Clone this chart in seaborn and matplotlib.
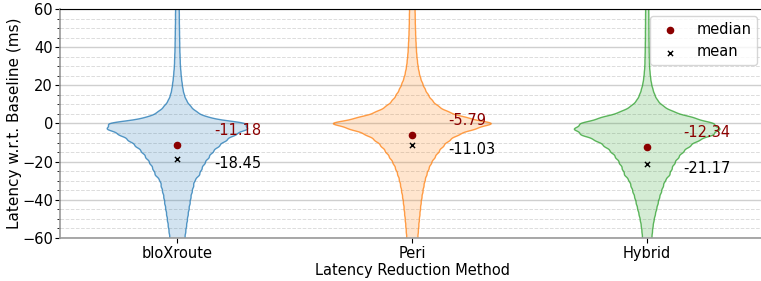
import numpy as np
import pandas as pd
import matplotlib
matplotlib.use("Agg")
import matplotlib.pyplot as plt
from matplotlib.colors import to_rgba
from matplotlib.ticker import MultipleLocator
import seaborn as sns

methods = ["bloXroute", "Peri", "Hybrid"]
colors = ["tab:blue", "tab:orange", "tab:green"]
medians = [-11.18, -5.79, -12.34]
means = [-18.45, -11.03, -21.17]

# latency levels (ms) and the relative frequency at each level
levels = np.arange(84, -85, -3)
freq_blox = [1.3, 1.4, 1.5, 1.5, 1.6, 1.6, 1.7, 1.7, 1.8, 1.9, 1.9, 2.0, 2.1, 2.2, 2.3,
             2.4, 2.6, 2.8, 3.0, 3.5, 4.0, 4.7, 5.5, 6.8, 9.0, 13, 19, 30, 70, 70,
             57, 48, 41, 35, 31, 27, 24, 22, 17, 16, 14.5, 13.3, 12.5, 11.5, 10.6,
             9.8, 9.0, 8.2, 7.5, 6.8, 6.2, 5.6, 5.0, 4.5, 4.0, 3.5, 3.0]
freq_peri = [2.0, 2.1, 2.2, 2.3, 2.4, 2.5, 2.6, 2.7, 2.8, 2.9, 3.0, 3.1, 3.3, 3.5, 3.8,
             4.1, 4.5, 5.1, 5.8, 6.8, 8.2, 10.3, 12.8, 16, 20, 26, 36, 54, 84, 62,
             46, 37, 31, 26.5, 22.5, 19, 16.5, 14.5, 12.8, 11.6, 10.6, 9.6, 8.8, 8.2, 7.6,
             7.0, 6.5, 6.0, 5.6, 5.2, 4.8, 4.5, 4.2, 3.9, 3.6, 3.3, 3.0]
freq_hybrid = [1.4, 1.4, 1.5, 1.5, 1.5, 1.6, 1.6, 1.7, 1.7, 1.7, 1.8, 1.8, 1.9, 1.9, 2.0,
               2.1, 2.2, 2.4, 2.5, 3.0, 3.6, 4.5, 6.0, 8.0, 11, 17, 28, 49, 71, 78,
               70, 54, 45, 38, 33, 29, 26, 24, 19, 17, 15, 13, 11.5, 10, 8.5,
               7.2, 6.2, 5.5, 5.0, 4.5, 4.1, 3.7, 3.4, 3.1, 2.8, 2.5, 2.2]

rows = []
for m, f in zip(methods, [freq_blox, freq_peri, freq_hybrid]):
    counts = np.round(np.array(f) * 10).astype(int)
    vals = np.repeat(levels, counts)
    rows.append(pd.DataFrame({"Method": m, "Latency": vals}))
df = pd.concat(rows, ignore_index=True)


def fixed_bw(kde):
    # same kernel width (in ms) for every violin
    return 1.5 / kde.dataset.std()


fig = plt.figure(figsize=(7.61, 2.81), dpi=100)
ax = fig.add_axes([0.0788, 0.153, 0.926, 0.815])
ax.set_axisbelow(True)

sns.violinplot(data=df, x="Method", y="Latency", hue="Method", order=methods,
               palette=colors, legend=False, inner=None, cut=2, gridsize=600,
               bw_method=fixed_bw, density_norm="area", common_norm=True,
               width=0.672, linewidth=1, ax=ax)

for coll, c in zip(ax.collections, colors):
    coll.set_facecolor(to_rgba(c, 0.2))
    coll.set_edgecolor(to_rgba(c, 0.75))
    coll.set_linewidth(1)

xs = np.arange(len(methods))
ax.scatter(xs, medians, color="darkred", s=20, zorder=4, label="median")
ax.scatter(xs, means, color="black", marker="x", s=14, linewidths=1, zorder=4, label="mean")
for i in range(len(methods)):
    ax.text(xs[i] + 0.155, medians[i] + 7.4, f"{medians[i]:.2f}", color="darkred",
            fontsize=10.5, va="center", ha="left")
    ax.text(xs[i] + 0.155, means[i] - 2.6, f"{means[i]:.2f}", color="black",
            fontsize=10.5, va="center", ha="left")

ax.set_ylim(-60, 60)
ax.set_xlim(-0.5, 2.5)
ax.yaxis.set_major_locator(MultipleLocator(20))
ax.yaxis.set_minor_locator(MultipleLocator(5))
ax.grid(axis="y", which="major", color="#cfcfcf", linewidth=1)
ax.grid(axis="y", which="minor", color="#dcdcdc", linestyle="--", linewidth=0.7)
ax.tick_params(axis="y", labelsize=10.5, pad=1.5)
ax.tick_params(axis="x", labelsize=10.5, pad=2.5)
for s in ["left", "bottom"]:
    ax.spines[s].set_color("#999999")
    ax.spines[s].set_linewidth(1.2)
ax.set_xlabel("Latency Reduction Method", fontsize=10.5, labelpad=1)
ax.set_ylabel("Latency w.r.t. Baseline (ms)", fontsize=11, labelpad=0)
ax.legend(loc="upper right", fontsize=10.5)

fig.savefig("out.png", dpi=100)
